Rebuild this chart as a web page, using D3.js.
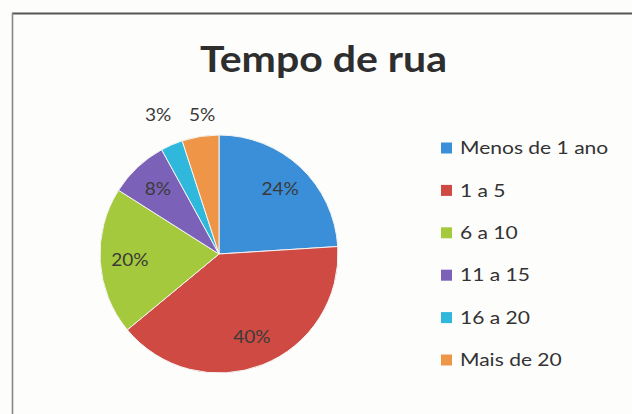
<!DOCTYPE html>
<html><head><meta charset="utf-8">
<script src="https://cdn.jsdelivr.net/npm/d3@7"></script>
<style>html,body{margin:0;padding:0;background:#fff;}svg{display:block;}</style>
</head><body>
<svg id="chart" width="632" height="414"></svg>
<script>
const categories = ["Menos de 1 ano", "1 a 5", "6 a 10", "11 a 15", "16 a 20", "Mais de 20"];
const values = [24, 40, 20, 8, 3, 5];
const colors = ["#3a8fd8", "#cf4a43", "#a5c93c", "#7b62b8", "#2fb7dc", "#ee9548"];
const title = "Tempo de rua";

const W = 632, H = 414;
const svg = d3.select("#chart");
svg.append("rect").attr("width", W).attr("height", H).attr("fill", "#fdfdfc");
// frame lines
svg.append("line").attr("x1", 12).attr("x2", W).attr("y1", 13.5).attr("y2", 13.5)
  .attr("stroke", "#555").attr("stroke-width", 2.2);
svg.append("line").attr("x1", 12.5).attr("x2", 12.5).attr("y1", 13).attr("y2", H)
  .attr("stroke", "#888").attr("stroke-width", 1.6);

svg.append("text").attr("x", 323.5).attr("y", 72).attr("text-anchor", "middle")
  .attr("font-family", "Lato, 'Open Sans', sans-serif").attr("font-weight", "bold")
  .attr("font-size", 36).attr("fill", "#2e2e2e")
  .attr("textLength", 247).attr("lengthAdjust", "spacingAndGlyphs").text(title);

const cx = 219, cy = 254, r = 119;
const g = svg.append("g").attr("transform", `translate(${cx},${cy})`);
const pie = d3.pie().sort(null).value(d => d)(values);
const arc = d3.arc().innerRadius(0).outerRadius(r);
g.selectAll("path.slice").data(pie).join("path").attr("class", "slice")
  .attr("d", arc).attr("fill", (d, i) => colors[i])
  .attr("stroke", "#f4f4f4").attr("stroke-width", 1);

const inArc = d3.arc().innerRadius(r * 0.75).outerRadius(r * 0.75);
const outArc = d3.arc().innerRadius(r * 1.18).outerRadius(r * 1.18);
const labels = pie.map((d, i) => {
  const outside = values[i] < 6;
  const [x, y] = (outside ? outArc : inArc).centroid(d);
  return {x, y, outside, text: values[i] + "%"};
});
// spread outside labels so they don't overlap
const outs = labels.filter(l => l.outside).sort((a, b) => a.x - b.x);
const topY = d3.min(outs, l => l.y);
outs.forEach(l => l.y = topY);
for (let k = 1; k < outs.length; k++) {
  if (outs[k].x - outs[k - 1].x < 44) {
    const mid = (outs[k].x + outs[k - 1].x) / 2;
    outs[k - 1].x = mid - 22; outs[k].x = mid + 22;
  }
}
g.selectAll("text.lbl").data(labels).join("text").attr("class", "lbl")
  .attr("x", d => d.x).attr("y", d => d.y).attr("dy", "0.35em")
  .attr("text-anchor", "middle")
  .attr("font-family", "Lato, 'Open Sans', sans-serif").attr("font-size", 17)
  .attr("fill", "#3a3a3a").text(d => d.text)
  .each(function () {
    const len = this.getComputedTextLength();
    d3.select(this).attr("textLength", len * 1.12).attr("lengthAdjust", "spacingAndGlyphs");
  });

// legend
const ly = d3.scalePoint().domain(categories).range([148, 360]);
const leg = svg.append("g");
const items = leg.selectAll("g").data(categories).join("g")
  .attr("transform", d => `translate(441,${ly(d)})`);
items.append("rect").attr("x", 0).attr("y", -5.5).attr("width", 11).attr("height", 11)
  .attr("fill", (d, i) => colors[i]);
items.append("text").attr("x", 19).attr("y", 0).attr("dy", "0.35em")
  .attr("font-family", "Lato, 'Open Sans', sans-serif").attr("font-size", 17.5)
  .attr("fill", "#333").text(d => d)
  .each(function () {
    const len = this.getComputedTextLength();
    d3.select(this).attr("textLength", len * 1.2).attr("lengthAdjust", "spacingAndGlyphs");
  });
</script>
</body></html>
